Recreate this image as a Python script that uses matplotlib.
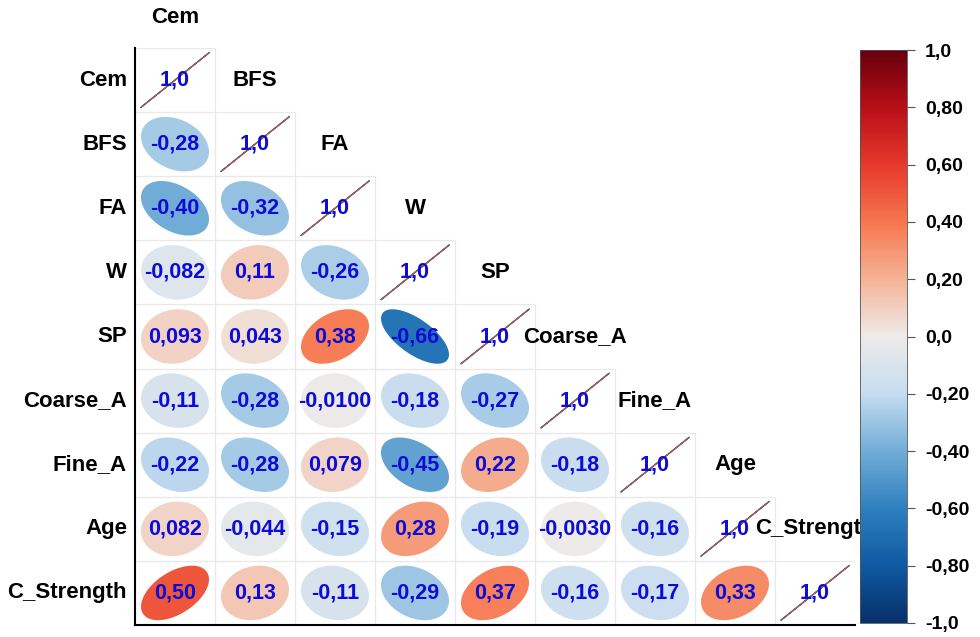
import numpy as np
import matplotlib
matplotlib.use("Agg")
import matplotlib.pyplot as plt
from matplotlib.patches import Polygon, Rectangle
from matplotlib.colors import LinearSegmentedColormap

plt.rcParams['font.family'] = ['Liberation Sans', 'DejaVu Sans']

# variables of the correlation matrix
names = ["Cem", "BFS", "FA", "W", "SP", "Coarse_A", "Fine_A", "Age", "C_Strength"]

# lower triangle, row by row (as printed on the chart)
row_BFS = ["-0,28"]
row_FA = ["-0,40", "-0,32"]
row_W = ["-0,082", "0,11", "-0,26"]
row_SP = ["0,093", "0,043", "0,38", "-0,66"]
row_Coarse_A = ["-0,11", "-0,28", "-0,0100", "-0,18", "-0,27"]
row_Fine_A = ["-0,22", "-0,28", "0,079", "-0,45", "0,22", "-0,18"]
row_Age = ["0,082", "-0,044", "-0,15", "0,28", "-0,19", "-0,0030", "-0,16"]
row_C_Strength = ["0,50", "0,13", "-0,11", "-0,29", "0,37", "-0,16", "-0,17", "0,33"]
lower = [[], row_BFS, row_FA, row_W, row_SP, row_Coarse_A, row_Fine_A, row_Age, row_C_Strength]
diag_label = "1,0"

cbar_ticks = [-1.0, -0.8, -0.6, -0.4, -0.2, 0.0, 0.2, 0.4, 0.6, 0.8, 1.0]
cbar_labels = ["-1,0", "-0,80", "-0,60", "-0,40", "-0,20", "0,0", "0,20", "0,40", "0,60", "0,80", "1,0"]

# blue -> grey -> red palette
pal_pos = [0.0, 0.1, 0.2, 0.3, 0.4, 0.5, 0.6, 0.7, 0.8, 0.9, 1.0]
pal_col = ["#08306b", "#0f5aa3", "#2f80bf", "#72add7", "#c6dcf0", "#eeebe9",
           "#f5b396", "#f7774f", "#e6392b", "#b90f18", "#67000d"]
cmap = LinearSegmentedColormap.from_list("bluered", list(zip(pal_pos, pal_col)))

n = len(names)
txt_col = "#0c0cd6"


def ell_pts(rho, cx, cy, scale=0.85):
    # same shape as corrplot's ellipse method
    k = np.linspace(0, 2 * np.pi, 99)
    a = np.arccos(np.clip(rho, -1, 1)) / 2
    x = np.cos(k + a) / 2 * scale
    y = np.cos(k - a) / 2 * scale
    return np.column_stack([cx + x, cy + y])


fig = plt.figure(figsize=(9.8, 6.37), dpi=100)
ax = fig.add_axes([135 / 980, 12 / 637, 720 / 980, 577 / 637])
ax.set_xlim(0, n)
ax.set_ylim(0, n)

for i in range(n):
    cy = n - 1 - i + 0.5
    # cells of the lower triangle incl. diagonal
    for j in range(i + 1):
        ax.add_patch(Rectangle((j, n - 1 - i), 1, 1, fill=False, ec="#e9e9e9", lw=0.8, zorder=1))
    for j, s in enumerate(lower[i]):
        r = float(s.replace(",", "."))
        cx = j + 0.5
        ax.add_patch(Polygon(ell_pts(r, cx, cy), closed=True, fc=cmap((r + 1) / 2), ec="none", zorder=2))
        ax.text(cx, cy, s, ha="center", va="center", color=txt_col, fontsize=15.5, fontweight="bold", zorder=3)
    # diagonal: degenerate ellipse (line) + label
    p = ell_pts(1.0, i + 0.5, cy)
    ax.plot(p[:, 0], p[:, 1], color="#8e6060", lw=1.0, zorder=2)
    ax.text(i + 0.5, cy, diag_label, ha="center", va="center", color=txt_col, fontsize=15.5, fontweight="bold", zorder=3)
    # row label on the left
    ax.text(-0.1, cy, names[i], ha="right", va="center", fontsize=16, fontweight="bold", color="black")
    # column label just above the diagonal cell
    ly = cy + 1 if i > 0 else cy + 0.97
    ax.text(i + 0.5, ly, names[i], ha="center", va="center", fontsize=16, fontweight="bold",
            color="black", clip_on=False)

ax.set_xticks([])
ax.set_yticks([])
for sp in ["top", "right"]:
    ax.spines[sp].set_visible(False)
ax.spines["left"].set_linewidth(1.5)
ax.spines["bottom"].set_linewidth(1.5)

cax = fig.add_axes([860 / 980, 14 / 637, 47 / 980, 573 / 637])
sm = plt.cm.ScalarMappable(cmap=cmap, norm=plt.Normalize(-1, 1))
cb = fig.colorbar(sm, cax=cax)
cb.set_ticks(cbar_ticks)
cb.set_ticklabels(cbar_labels)
cb.outline.set_linewidth(0.6)
cb.outline.set_edgecolor("#555555")
cax.tick_params(length=6, width=0.8, color="#555555", pad=7)
for t in cax.get_yticklabels():
    t.set_fontweight("bold")
    t.set_fontsize(14)

fig.savefig("out.png", dpi=100)
